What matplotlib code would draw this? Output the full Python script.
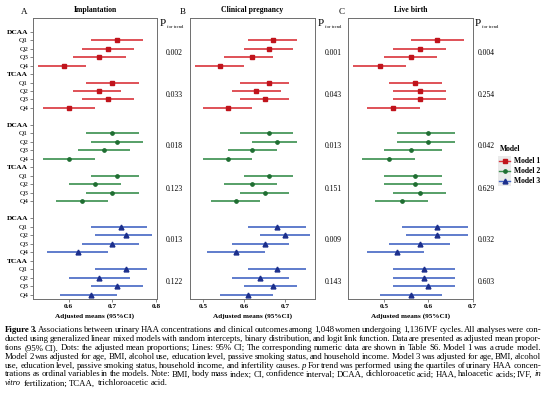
import numpy as np
import matplotlib
matplotlib.use("Agg")
import matplotlib.pyplot as plt
from matplotlib.patches import Rectangle

plt.rcParams['font.family'] = ['Liberation Serif', 'DejaVu Serif']

# ---- data: DCAA Q1-Q4, TCAA Q1-Q4 ----
row_labels = ["DCAA", "Q1", "Q2", "Q3", "Q4", "TCAA", "Q1", "Q2", "Q3", "Q4"]
models = ["Model 1", "Model 2", "Model 3"]

# Implantation
impl_m1_est = [0.71, 0.69, 0.67, 0.59, 0.70, 0.67, 0.69, 0.60]
impl_m1_lo  = [0.65, 0.63, 0.61, 0.53, 0.64, 0.61, 0.63, 0.54]
impl_m1_hi  = [0.77, 0.75, 0.73, 0.64, 0.76, 0.72, 0.75, 0.66]
impl_m2_est = [0.70, 0.71, 0.68, 0.60, 0.71, 0.66, 0.70, 0.63]
impl_m2_lo  = [0.64, 0.65, 0.62, 0.54, 0.65, 0.60, 0.64, 0.57]
impl_m2_hi  = [0.76, 0.77, 0.74, 0.66, 0.76, 0.72, 0.76, 0.69]
impl_m3_est = [0.72, 0.73, 0.70, 0.62, 0.73, 0.67, 0.71, 0.65]
impl_m3_lo  = [0.65, 0.66, 0.63, 0.55, 0.66, 0.60, 0.65, 0.58]
impl_m3_hi  = [0.78, 0.79, 0.76, 0.69, 0.78, 0.74, 0.77, 0.71]
impl_p = ["0.002", "0.033", "0.018", "0.123", "0.013", "0.122"]

# Clinical pregnancy
preg_m1_est = [0.67, 0.66, 0.62, 0.54, 0.66, 0.63, 0.65, 0.56]
preg_m1_lo  = [0.61, 0.60, 0.55, 0.48, 0.59, 0.57, 0.59, 0.50]
preg_m1_hi  = [0.73, 0.72, 0.67, 0.60, 0.71, 0.69, 0.71, 0.62]
preg_m2_est = [0.66, 0.68, 0.62, 0.56, 0.66, 0.62, 0.65, 0.58]
preg_m2_lo  = [0.59, 0.62, 0.56, 0.50, 0.60, 0.55, 0.59, 0.52]
preg_m2_hi  = [0.72, 0.73, 0.68, 0.62, 0.72, 0.68, 0.71, 0.64]
preg_m3_est = [0.68, 0.70, 0.65, 0.58, 0.68, 0.64, 0.67, 0.61]
preg_m3_lo  = [0.61, 0.64, 0.57, 0.51, 0.61, 0.57, 0.60, 0.54]
preg_m3_hi  = [0.75, 0.76, 0.71, 0.65, 0.75, 0.71, 0.73, 0.67]
preg_p = ["0.001", "0.043", "0.013", "0.151", "0.009", "0.143"]

# Live birth
live_m1_est = [0.62, 0.58, 0.56, 0.49, 0.57, 0.58, 0.58, 0.52]
live_m1_lo  = [0.56, 0.52, 0.50, 0.43, 0.51, 0.52, 0.52, 0.46]
live_m1_hi  = [0.68, 0.64, 0.62, 0.55, 0.63, 0.64, 0.64, 0.58]
live_m2_est = [0.60, 0.60, 0.56, 0.51, 0.57, 0.57, 0.58, 0.54]
live_m2_lo  = [0.53, 0.53, 0.50, 0.45, 0.50, 0.50, 0.52, 0.48]
live_m2_hi  = [0.66, 0.66, 0.63, 0.57, 0.63, 0.63, 0.64, 0.60]
live_m3_est = [0.62, 0.62, 0.58, 0.53, 0.59, 0.59, 0.60, 0.56]
live_m3_lo  = [0.54, 0.55, 0.51, 0.46, 0.52, 0.52, 0.52, 0.49]
live_m3_hi  = [0.69, 0.69, 0.65, 0.59, 0.66, 0.66, 0.66, 0.63]
live_p = ["0.004", "0.254", "0.042", "0.629", "0.032", "0.603"]

panels = [
    ("A", "Implantation",
     [(impl_m1_est, impl_m1_lo, impl_m1_hi), (impl_m2_est, impl_m2_lo, impl_m2_hi),
      (impl_m3_est, impl_m3_lo, impl_m3_hi)], impl_p,
     (0.518, 0.802), [0.6, 0.7, 0.8]),
    ("B", "Clinical pregnancy",
     [(preg_m1_est, preg_m1_lo, preg_m1_hi), (preg_m2_est, preg_m2_lo, preg_m2_hi),
      (preg_m3_est, preg_m3_lo, preg_m3_hi)], preg_p,
     (0.468, 0.773), [0.5, 0.6, 0.7]),
    ("C", "Live birth",
     [(live_m1_est, live_m1_lo, live_m1_hi), (live_m2_est, live_m2_lo, live_m2_hi),
      (live_m3_est, live_m3_lo, live_m3_hi)], live_p,
     (0.418, 0.701), [0.5, 0.6, 0.7]),
]

line_cols = ["#d9343b", "#3a8f4e", "#4466c4"]
mark_cols = ["#c0141c", "#1f6e32", "#1c2f8c"]
markers = ["s", "o", "^"]
msizes = [3.2, 2.4, 3.5]

W, H = 546, 393
fig = plt.figure(figsize=(W / 100, H / 100), dpi=100)

# pixel geometry of the three panels (left, right)
ax_px = [(33, 157), (190, 315), (348, 473)]
top_px, bot_px = 18, 299
letter_x = [24, 183, 342]
p_x = [174.5, 333, 486]
P_x = [163, 321, 478]

# row positions: block of 10 rows per model, blank row between blocks
row_pos = []
for m in range(3):
    row_pos.append(np.arange(10) + 11 * m)
ylab_pos = np.concatenate(row_pos)
ylab_txt = row_labels * 3

for i, (letter, title, series, pvals, xlim, xticks) in enumerate(panels):
    l, r = ax_px[i]
    ax = fig.add_axes([l / W, 1 - bot_px / H, (r - l) / W, (bot_px - top_px) / H])
    for m, (est, lo, hi) in enumerate(series):
        y = np.concatenate([row_pos[m][1:5], row_pos[m][6:10]])
        ax.hlines(y, lo, hi, color=line_cols[m], lw=1.2, zorder=2)
        ax.plot(est, y, markers[m], color=mark_cols[m], ms=msizes[m], zorder=3)
        # p for trend, placed between Q2 and Q3 of each acid
        tr = ax.get_yaxis_transform()
        for j, base in enumerate([row_pos[m][0], row_pos[m][5]]):
            xp = (p_x[i] - l) / (r - l)
            ax.text(xp, base + 2.5, pvals[2 * m + j], transform=tr, ha="center",
                    va="center", fontsize=5.5, clip_on=False)
    ax.set_xlim(*xlim)
    ax.set_ylim(31.5, -1.6)
    ax.set_xticks(xticks)
    ax.set_xticklabels(["%.1f" % t for t in xticks], fontsize=5.2, fontweight="bold")
    ax.tick_params(axis="x", length=2, width=0.5, pad=1.5, color="#555555")
    if i == 0:
        ax.set_yticks(ylab_pos)
        ax.set_yticklabels(ylab_txt, fontsize=5.3)
        for t, s in zip(ax.get_yticklabels(), ylab_txt):
            if s in ("DCAA", "TCAA"):
                t.set_fontweight("bold")
        ax.tick_params(axis="y", length=2, width=0.5, pad=1.5, color="#555555")
    else:
        ax.set_yticks([])
    for sp in ax.spines.values():
        sp.set_color("#6e6e6e")
        sp.set_linewidth(0.7)
    ax.set_title(title, fontsize=5.6, fontweight="bold", pad=4.5)
    ax.set_xlabel("Adjusted means (95%CI)", fontsize=5.2, fontweight="bold", labelpad=3)
    fig.text(letter_x[i] / W, 1 - 12 / H, letter, fontsize=6.5, ha="center", va="center")
    fig.text(P_x[i] / W, 1 - 23 / H, "P", fontsize=8, ha="center", va="center")
    fig.text((P_x[i] + 4) / W, 1 - 27 / H, "for trend", fontsize=3.3, ha="left", va="center")

# ---- legend (ggplot-like grey keys) ----
lg = fig.add_axes([0, 0, 1, 1])
lg.set_xlim(0, W)
lg.set_ylim(H, 0)
lg.axis("off")
lg.text(500, 149, "Model", fontsize=5.5, fontweight="bold", ha="left", va="center")
for m, name in enumerate(models):
    yk = 161 + 10 * m
    lg.add_patch(Rectangle((498, yk - 5), 13, 10, color="#ebebeb", lw=0))
    lg.plot([499, 510], [yk, yk], color=line_cols[m], lw=1.0)
    lg.plot([504.5], [yk], markers[m], color=mark_cols[m], ms=msizes[m])
    lg.text(514, yk, name, fontsize=5.5, fontweight="bold", ha="left", va="center")

# ---- caption (justified) ----
caption = [
    "^Figure ^3. Associations between urinary HAA concentrations and clinical outcomes among 1,048 women undergoing 1,136 IVF cycles. All analyses were con-",
    "ducted using generalized linear mixed models with random intercepts, binary distribution, and logit link function. Data are presented as adjusted mean propor-",
    "tions (95% CI). Dots: the adjusted mean proportions; Lines: 95% CI; The corresponding numeric data are shown in Table S6. Model 1 was a crude model.",
    "Model 2 was adjusted for age, BMI, alcohol use, education level, passive smoking status, and household income. Model 3 was adjusted for age, BMI, alcohol",
    "use, education level, passive smoking status, household income, and infertility causes. ~p For trend was performed using the quartiles of urinary HAA concen-",
    "trations as ordinal variables in the models. Note: BMI, body mass index; CI, confidence interval; DCAA, dichloroacetic acid; HAA, haloacetic acids; IVF, ~in",
    "~vitro fertilization; TCAA, trichloroacetic acid.",
]
CAP_FS = 6.3
cap_x0, cap_x1 = 5, 541
cap_y0, cap_dy = 332, 8.9
renderer = fig.canvas.get_renderer()
for k, line in enumerate(caption):
    texts = []
    for w in line.split(" "):
        kw = dict(fontsize=CAP_FS, ha="left", va="baseline")
        if w.startswith("^"):
            w = w[1:]
            kw["fontweight"] = "bold"
        elif w.startswith("~"):
            w = w[1:]
            kw["fontstyle"] = "italic"
        texts.append(fig.text(0, 1 - (cap_y0 + k * cap_dy) / H, w, **kw))
    widths = [t.get_window_extent(renderer).width for t in texts]
    last = k == len(caption) - 1
    gap = CAP_FS * 0.25 * 100 / 72 if last else (cap_x1 - cap_x0 - sum(widths)) / (len(texts) - 1)
    x = cap_x0
    for t, w in zip(texts, widths):
        t.set_x(x / W)
        x += w + gap

fig.savefig("out.png", dpi=100)
